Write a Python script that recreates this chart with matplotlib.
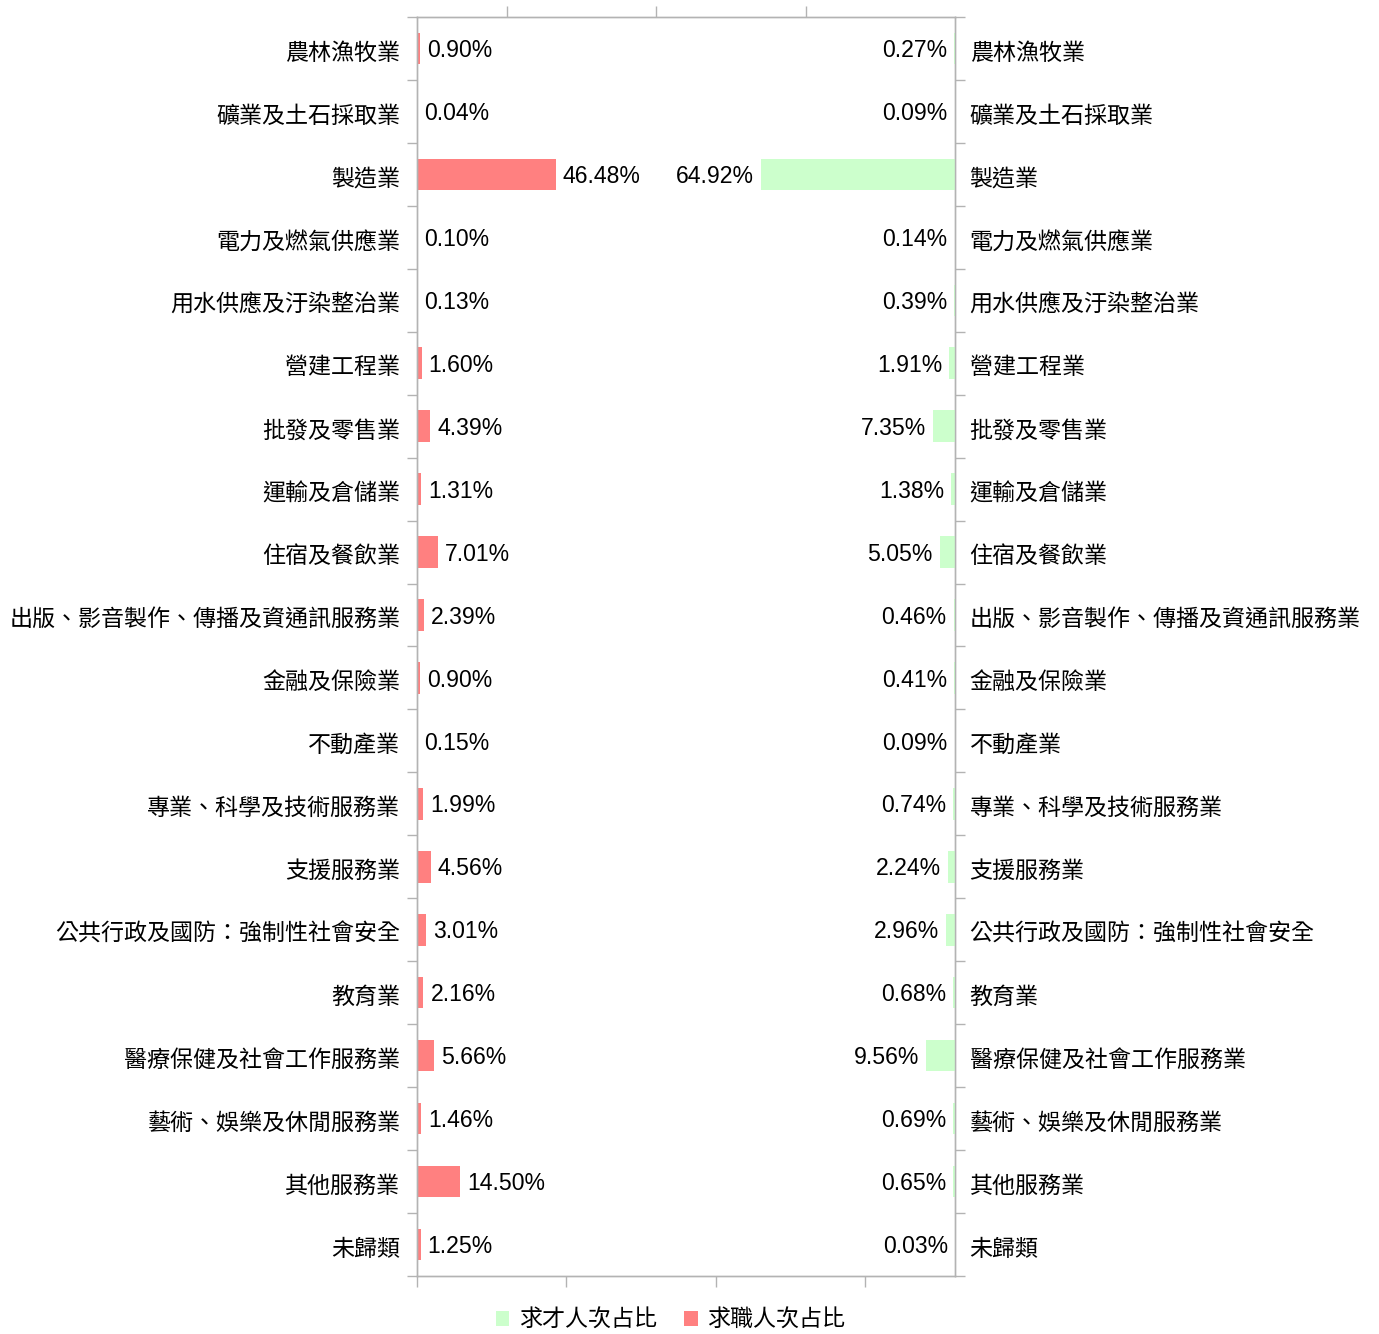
import matplotlib
matplotlib.use("Agg")
import matplotlib.pyplot as plt
import matplotlib.transforms as mtransforms
from matplotlib.patches import Patch
import numpy as np

categories = ["農林漁牧業", "礦業及土石採取業", "製造業", "電力及燃氣供應業", "用水供應及汙染整治業",
              "營建工程業", "批發及零售業", "運輸及倉儲業", "住宿及餐飲業",
              "出版、影音製作、傳播及資通訊服務業", "金融及保險業", "不動產業",
              "專業、科學及技術服務業", "支援服務業", "公共行政及國防：強制性社會安全",
              "教育業", "醫療保健及社會工作服務業", "藝術、娛樂及休閒服務業", "其他服務業", "未歸類"]
seek_job = [0.90, 0.04, 46.48, 0.10, 0.13, 1.60, 4.39, 1.31, 7.01, 2.39, 0.90, 0.15,
            1.99, 4.56, 3.01, 2.16, 5.66, 1.46, 14.50, 1.25]
seek_talent = [0.27, 0.09, 64.92, 0.14, 0.39, 1.91, 7.35, 1.38, 5.05, 0.46, 0.41, 0.09,
               0.74, 2.24, 2.96, 0.68, 9.56, 0.69, 0.65, 0.03]
legend_labels = ["求才人次占比", "求職人次占比"]

RED = "#ff8080"
GREEN = "#ccffcc"
GRAY = "#b3b3b3"
CJK = ["Noto Sans CJK TC", "DejaVu Sans"]
NUM = ["Liberation Sans", "DejaVu Sans"]

W, H = 1379, 1334
fig = plt.figure(figsize=(W / 100, H / 100), dpi=100)
L, R, T, B = 417, 955, 17, 1276
ax = fig.add_axes([L / W, 1 - B / H, (R - L) / W, (B - T) / H])
ax2 = ax.twiny()

n = len(categories)
y = np.arange(n)

ax.barh(y, seek_job, height=0.5, color=RED)
ax2.barh(y, seek_talent, height=0.5, color=GREEN)

ax.set_xlim(0, 180)
ax2.set_xlim(180, 0)
ax.set_ylim(n - 0.5, -0.5)

for a in (ax, ax2):
    for s in a.spines.values():
        s.set_color(GRAY)
        s.set_linewidth(1.0)

ax.set_xticks([0, 50, 100, 150])
ax.set_xticklabels([])
ax.tick_params(axis="x", which="major", direction="out", length=8, color=GRAY, width=1.0)
ax2.set_xticks([50, 100, 150])
ax2.set_xticklabels([])
ax2.tick_params(axis="x", which="major", direction="out", length=8, color=GRAY, width=1.0)

ax.set_yticks(y)
ax.set_yticklabels(categories, fontfamily=CJK, fontsize=16.6)
ax.set_yticks(np.arange(-0.5, n, 1.0), minor=True)
ax.tick_params(axis="y", which="major", length=0, pad=12, labelleft=True, labelright=True,
               left=False, right=False)
ax.tick_params(axis="y", which="minor", length=7, color=GRAY, width=1.0, left=True, right=True)
ax2.tick_params(axis="y", which="both", left=False, right=False, labelleft=False, labelright=False)

shift_l = mtransforms.ScaledTranslation(0, -1.5 / 72, fig.dpi_scale_trans)
shift_r = mtransforms.ScaledTranslation(-1.5 / 72, -1.5 / 72, fig.dpi_scale_trans)
for t in ax.yaxis.get_major_ticks():
    t.label1.set_transform(t.label1.get_transform() + shift_l)
    t.label2.set_transform(t.label2.get_transform() + shift_r)

for i, v in enumerate(seek_job):
    ax.annotate(f"{v:.2f}%", xy=(v, i), xytext=(5, -1.5), textcoords="offset points",
                ha="left", va="center", fontfamily=NUM, fontsize=16.6, color="#000000")
for i, v in enumerate(seek_talent):
    ax2.annotate(f"{v:.2f}%", xy=(v, i), xytext=(-5, -1.5), textcoords="offset points",
                 ha="right", va="center", fontfamily=NUM, fontsize=16.6, color="#000000")

handles = [Patch(facecolor=GREEN, edgecolor="none"), Patch(facecolor=RED, edgecolor="none")]
fig.legend(handles, legend_labels, loc="center", bbox_to_anchor=(670.5 / W, 1 - 1320 / H), ncol=2,
           frameon=False, prop={"family": CJK, "size": 16.6}, handlelength=0.6,
           handleheight=0.6, handletextpad=0.4, columnspacing=1.2)

fig.savefig("out.png", dpi=100)
